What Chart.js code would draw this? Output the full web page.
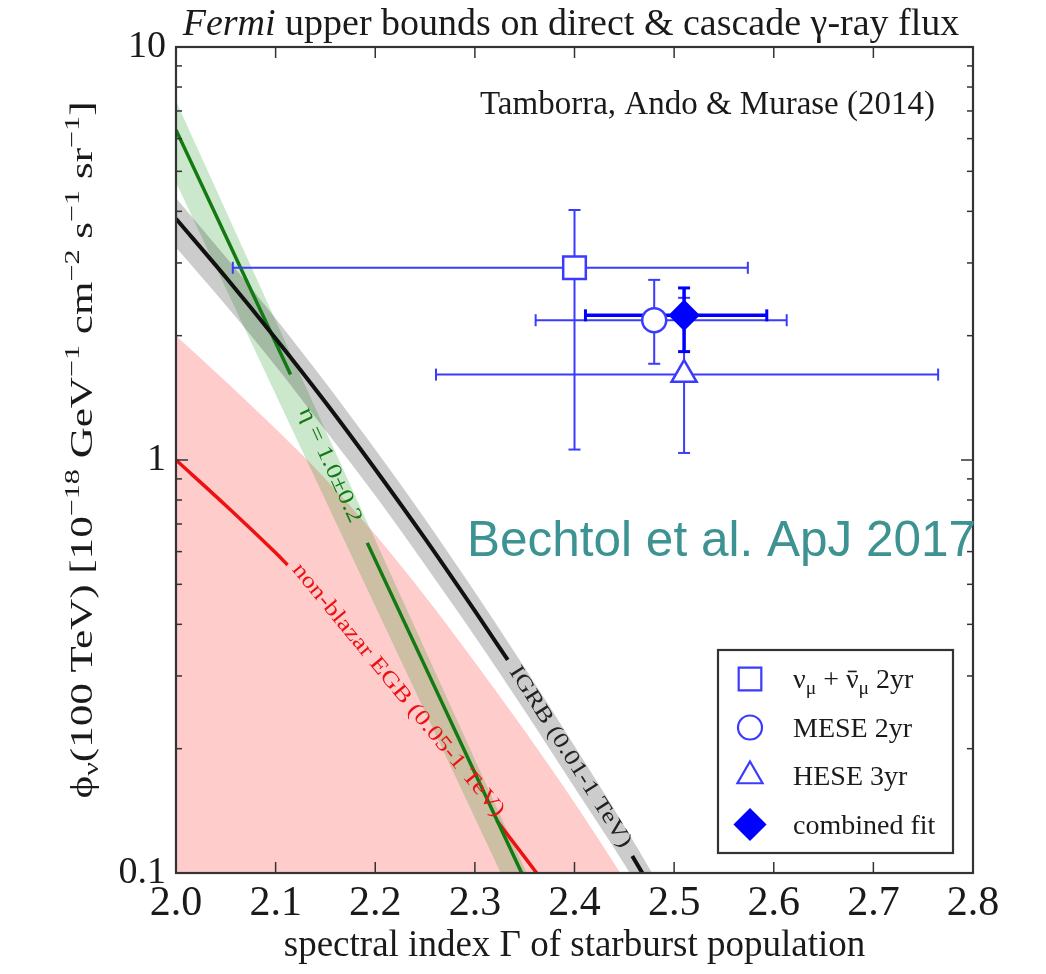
<!DOCTYPE html>
<html>
<head>
<meta charset="utf-8">
<script src="https://cdn.jsdelivr.net/npm/chart.js@4.4.0/dist/chart.umd.min.js"></script>
<style>
  html, body { margin: 0; padding: 0; background: #fff; }
  #wrap { width: 1046px; height: 974px; }
</style>
</head>
<body>
<div id="wrap"><canvas id="fluxChart" width="1046" height="974"></canvas></div>
<script>
// axes
const xTicks = [2.0, 2.1, 2.2, 2.3, 2.4, 2.5, 2.6, 2.7, 2.8];
const yMajor = [0.1, 1, 10];
const yMinor = [0.2, 0.3, 0.4, 0.5, 0.6, 0.7, 0.8, 0.9, 2, 3, 4, 5, 6, 7, 8, 9];

// IGRB (0.01-1 TeV) bound, black line + grey band
const igrbX = [2.0, 2.05, 2.1, 2.15, 2.2, 2.25, 2.3, 2.333, 2.395, 2.458, 2.5];
const igrbY = [3.84, 2.77, 1.97, 1.38, 0.95, 0.645, 0.431, 0.328, null, 0.110, 0.074];
const igrbBandX = [2.0, 2.05, 2.1, 2.15, 2.2, 2.25, 2.3, 2.35, 2.4, 2.45, 2.5];
const igrbHi = [4.31, 3.10, 2.20, 1.54, 1.06, 0.72, 0.479, 0.314, 0.203, 0.130, 0.081];
const igrbLo = [3.27, 2.37, 1.69, 1.18, 0.82, 0.557, 0.374, 0.247, 0.161, 0.105, 0.066];

// non-blazar EGB (0.05-1 TeV), red line + pink region
const egbX = [2.0, 2.05, 2.1, 2.112, 2.2, 2.322, 2.362];
const egbY = [1.0, 0.776, 0.596, 0.557, null, 0.134, 0.1];
const egbBandX = [2.0, 2.05, 2.1, 2.15, 2.2, 2.25, 2.3, 2.35, 2.4, 2.446, 2.5];
const egbBandHi = [2.0, 1.55, 1.19, 0.90, 0.66, 0.468, 0.324, 0.221, 0.148, 0.1, 0.062];

// eta = 1.0 +- 0.2, green line + green band
const etaX = [2.0, 2.115, 2.15, 2.192, 2.347];
const etaY = [6.3, 1.61, null, 0.63, 0.1];
const etaBandX = [2.0, 2.326, 2.352];
const etaHi = [7.4, 0.137, 0.1];
const etaLo = [4.7, 0.1, 0.073];

// IceCube fits: combined, numu 2yr, MESE 2yr, HESE 3yr
const fitNames = ['combined fit', 'numu 2yr', 'MESE 2yr', 'HESE 3yr'];
const fitStyle = ['rectRot', 'rect', 'circle', 'triangle'];
const gammaBest = [2.51, 2.40, 2.48, 2.51];
const gammaLow = [2.411, 2.057, 2.361, 2.261];
const gammaHigh = [2.593, 2.574, 2.613, 2.765];
const fluxBest = [2.24, 2.92, 2.18, 1.61];
const fluxLow = [1.83, 1.06, 1.71, 1.04];
const fluxHigh = [2.61, 4.03, 2.73, 2.47];

const BLUE = '#3b3bff';
const SERIF = '"Liberation Serif", "Times New Roman", serif';
const pts = (xs, ys) => xs.map((x, i) => ({x: x, y: ys[i]}));

const markerRadius = [14, 16, 12, 14.5];
const datasets = [];

fitNames.forEach((name, i) => {
  datasets.push({
    label: name,
    data: [{x: gammaBest[i], y: fluxBest[i]}],
    showLine: false,
    pointStyle: fitStyle[i],
    pointRadius: markerRadius[i],
    pointBorderWidth: 2.5,
    pointBorderColor: i === 0 ? '#0000ff' : BLUE,
    pointBackgroundColor: i === 0 ? '#0000ff' : '#ffffff',
    order: 0
  });
});

fitNames.forEach((name, i) => {
  datasets.push({
    label: name + ' error',
    data: [
      {x: gammaLow[i], y: fluxBest[i]}, {x: gammaHigh[i], y: fluxBest[i]},
      {x: gammaHigh[i], y: null},
      {x: gammaBest[i], y: fluxLow[i]}, {x: gammaBest[i], y: fluxHigh[i]}
    ],
    borderColor: i === 0 ? '#0000ff' : BLUE,
    borderWidth: i === 0 ? 3.5 : 2,
    pointStyle: 'line',
    pointRadius: 6,
    pointRotation: ctx => ctx.dataIndex < 2 ? 90 : 0,
    pointBorderColor: i === 0 ? '#0000ff' : BLUE,
    pointBorderWidth: i === 0 ? 3 : 2,
    spanGaps: false,
    order: 1
  });
});

datasets.push({label: 'IGRB', data: pts(igrbX, igrbY), borderColor: '#111', borderWidth: 4, pointRadius: 0,
  spanGaps: false, cubicInterpolationMode: 'monotone', order: 2});
datasets.push({label: 'eta', data: pts(etaX, etaY), borderColor: '#137a13', borderWidth: 3.5, pointRadius: 0, spanGaps: false, order: 2});
datasets.push({label: 'EGB', data: pts(egbX, egbY), borderColor: '#ee1111', borderWidth: 3.5, pointRadius: 0,
  spanGaps: false, cubicInterpolationMode: 'monotone', order: 2});

const igrbLoIndex = datasets.length + 1;
datasets.push({label: 'IGRB hi', data: pts(igrbBandX, igrbHi), borderWidth: 0, borderColor: 'rgba(0,0,0,0)', pointRadius: 0,
  cubicInterpolationMode: 'monotone', fill: igrbLoIndex, backgroundColor: 'rgba(0,0,0,0.2)', order: 3});
datasets.push({label: 'IGRB lo', data: pts(igrbBandX, igrbLo), borderWidth: 0, borderColor: 'rgba(0,0,0,0)', pointRadius: 0,
  cubicInterpolationMode: 'monotone', order: 3});

const etaLoIndex = datasets.length + 1;
datasets.push({label: 'eta hi', data: pts(etaBandX, etaHi), borderWidth: 0, borderColor: 'rgba(0,0,0,0)', pointRadius: 0,
  fill: etaLoIndex, backgroundColor: 'rgba(0,140,0,0.2)', order: 4});
datasets.push({label: 'eta lo', data: pts(etaBandX, etaLo), borderWidth: 0, borderColor: 'rgba(0,0,0,0)', pointRadius: 0, order: 4});

datasets.push({label: 'EGB band', data: pts(egbBandX, egbBandHi), borderWidth: 0, borderColor: 'rgba(0,0,0,0)', pointRadius: 0,
  cubicInterpolationMode: 'monotone', fill: 'start', backgroundColor: '#ffcccc', order: 5});

// text with sub/superscripts, drawn left to right from (x, y)
function richWidth(ctx, parts, size) {
  let w = 0;
  parts.forEach(p => {
    const s = (p[1] === 'sup' || p[1] === 'sub') ? size * 0.7 : size;
    ctx.font = (p[1] === 'it' ? 'italic ' : '') + s + 'px ' + SERIF;
    w += ctx.measureText(p[0]).width;
  });
  return w;
}
function richDraw(ctx, parts, x, y, size) {
  let cx = x;
  parts.forEach(p => {
    const s = (p[1] === 'sup' || p[1] === 'sub') ? size * 0.7 : size;
    const dy = p[1] === 'sup' ? -size * 0.42 : (p[1] === 'sub' ? size * 0.2 : 0);
    ctx.font = (p[1] === 'it' ? 'italic ' : '') + s + 'px ' + SERIF;
    ctx.fillText(p[0], cx, y + dy);
    const w = ctx.measureText(p[0]).width;
    if (p[1] === 'bar') {
      ctx.fillRect(cx + w * 0.15, y - size * 0.62, w * 0.7, 1.6);
    }
    cx += w;
  });
}

const curveLabels = [
  {text: 'η = 1.0±0.2', color: '#137a13', x: 2.1546, y: 0.972, from: [2.115, 1.61], to: [2.192, 0.63]},
  {text: 'non-blazar EGB (0.05-1 TeV)', color: '#ee1111', x: 2.223, y: 0.277, from: [2.112, 0.557], to: [2.322, 0.134], ang: 50.5},
  {text: 'IGRB (0.01-1 TeV)', color: '#222', x: 2.3956, y: 0.191, from: [2.333, 0.328], to: [2.458, 0.110]}
];

const legendRows = [
  {style: 'rect', r: 16, fill: '#ffffff', parts: [['ν', ''], ['μ', 'sub'], [' + ', ''], ['ν', 'bar'], ['μ', 'sub'], [' 2yr', '']]},
  {style: 'circle', r: 12, fill: '#ffffff', parts: [['MESE 2yr', '']]},
  {style: 'triangle', r: 14.5, fill: '#ffffff', parts: [['HESE 3yr', '']]},
  {style: 'rectRot', r: 15, fill: '#0000ff', parts: [['combined fit', '']]}
];

const decorations = {
  id: 'decorations',
  afterDraw(chart) {
    const {ctx, chartArea: a, scales: {x, y}} = chart;
    ctx.save();
    const seg = (x1, y1, x2, y2) => { ctx.beginPath(); ctx.moveTo(x1, y1); ctx.lineTo(x2, y2); ctx.stroke(); };

    // inward ticks and frame
    ctx.strokeStyle = '#333';
    ctx.lineWidth = 1.5;
    xTicks.forEach(v => {
      const p = x.getPixelForValue(v);
      seg(p, a.bottom, p, a.bottom - 11);
      seg(p, a.top, p, a.top + 11);
    });
    yMinor.forEach(v => {
      const p = y.getPixelForValue(v);
      seg(a.left, p, a.left + 6, p);
      seg(a.right, p, a.right - 6, p);
    });
    yMajor.forEach(v => {
      const p = y.getPixelForValue(v);
      seg(a.left, p, a.left + 12, p);
      seg(a.right, p, a.right - 12, p);
    });
    ctx.lineWidth = 2.2;
    ctx.strokeRect(a.left, a.top, a.right - a.left, a.bottom - a.top);

    // curve labels
    ctx.textAlign = 'center';
    ctx.textBaseline = 'middle';
    curveLabels.forEach(l => {
      const px = x.getPixelForValue(l.x), py = y.getPixelForValue(l.y);
      const dx = x.getPixelForValue(l.to[0]) - x.getPixelForValue(l.from[0]);
      const dy = y.getPixelForValue(l.to[1]) - y.getPixelForValue(l.from[1]);
      const ang = l.ang !== undefined ? l.ang * Math.PI / 180 : Math.atan2(dy, dx);
      ctx.save();
      ctx.translate(px, py);
      ctx.rotate(ang);
      ctx.scale(1.22, 1);
      ctx.fillStyle = l.color;
      ctx.font = '22px ' + SERIF;
      ctx.fillText(l.text, 0, 0);
      ctx.restore();
    });

    // title
    ctx.textAlign = 'left';
    ctx.textBaseline = 'alphabetic';
    ctx.fillStyle = '#1a1a1a';
    const title = [['Fermi', 'it'], [' upper bounds on direct & cascade γ-ray flux', '']];
    const tw = richWidth(ctx, title, 38);
    richDraw(ctx, title, 571 - tw / 2, 35, 38);

    // y axis title
    const ytitle = [['ϕ', ''], ['ν', 'sub'], ['(100 TeV) [10', ''], ['−18', 'sup'], [' GeV', ''], ['−1', 'sup'],
      [' cm', ''], ['−2', 'sup'], [' s', ''], ['−1', 'sup'], [' sr', ''], ['−1', 'sup'], [']', '']];
    ctx.save();
    ctx.translate(92, 450);
    ctx.rotate(-Math.PI / 2);
    ctx.scale(1.39, 1);
    const yw = richWidth(ctx, ytitle, 31);
    richDraw(ctx, ytitle, -yw / 2, 0, 31);
    ctx.restore();

    // reference note
    ctx.font = '33px ' + SERIF;
    ctx.textAlign = 'right';
    ctx.fillText('Tamborra, Ando & Murase (2014)', 935, 114);

    // watermark
    ctx.textAlign = 'left';
    ctx.fillStyle = '#3d9292';
    ctx.font = '49.5px "Liberation Sans", Arial, sans-serif';
    ctx.fillText('Bechtol et al. ApJ 2017', 467, 556);

    // legend
    const bx = a.right - 255, by = a.bottom - 223, bw = 235, bh = 203;
    ctx.fillStyle = '#fff';
    ctx.fillRect(bx, by, bw, bh);
    ctx.strokeStyle = '#333';
    ctx.lineWidth = 2.2;
    ctx.strokeRect(bx, by, bw, bh);
    legendRows.forEach((row, i) => {
      const ry = by + 29 + i * 48.5;
      ctx.fillStyle = row.fill;
      ctx.strokeStyle = row.fill === '#0000ff' ? '#0000ff' : BLUE;
      Chart.helpers.drawPoint(ctx, {pointStyle: row.style, radius: row.r, rotation: 0, borderWidth: 2.5}, bx + 32, ry);
      ctx.fillStyle = '#1a1a1a';
      ctx.textAlign = 'left';
      ctx.textBaseline = 'alphabetic';
      richDraw(ctx, row.parts, bx + 75, ry + 9, 28);
    });
    ctx.restore();
  }
};

new Chart(document.getElementById('fluxChart'), {
  type: 'line',
  data: {datasets: datasets},
  options: {
    responsive: false,
    animation: false,
    events: [],
    layout: {padding: {left: 0, top: 47, right: 73, bottom: 0}},
    plugins: {legend: {display: false}, tooltip: {enabled: false}},
    scales: {
      x: {
        type: 'linear', min: 2.0, max: 2.8,
        afterBuildTicks: s => { s.ticks = xTicks.map(v => ({value: v})); },
        afterFit: s => { s.height = 101; },
        grid: {display: false, drawTicks: false},
        border: {display: false},
        ticks: {padding: 6, color: '#1a1a1a', font: {family: SERIF, size: 42}, maxRotation: 0,
          autoSkip: false, callback: v => v.toFixed(1)},
        title: {display: true, text: 'spectral index Γ of starburst population', color: '#1a1a1a',
          font: {family: SERIF, size: 37}, padding: {top: 0, bottom: 6}}
      },
      y: {
        type: 'logarithmic', min: 0.1, max: 10,
        afterBuildTicks: s => { s.ticks = yMajor.map(v => ({value: v})); },
        afterFit: s => { s.width = 176; },
        grid: {display: false, drawTicks: false},
        border: {display: false},
        ticks: {padding: 10, color: '#1a1a1a', font: {family: SERIF, size: 38}, autoSkip: false,
          callback: v => String(v)}
      }
    }
  },
  plugins: [decorations]
});
</script>
</body>
</html>
